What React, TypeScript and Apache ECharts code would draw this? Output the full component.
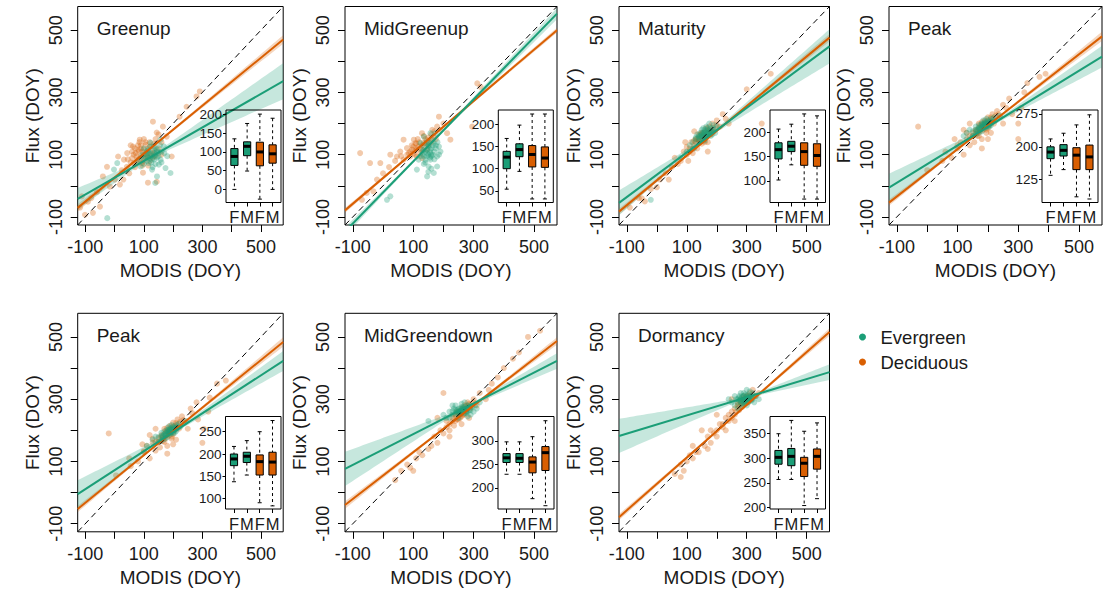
import React, { useEffect, useRef } from "react";
import * as echarts from "echarts";

const FONT = "'Liberation Sans', Arial, Helvetica, sans-serif";
const GREEN = "#1b9e77";
const ORANGE = "#d95f02";
const TEXT = "#1a1a1a";

// ---------- shared axis settings ----------
const axisRange = [-126, 576];
const mainTicks = [-100, 0, 100, 200, 300, 400, 500];
const mainLabels = [-100, 100, 300, 500];
const boxLabels = ["F", "M", "F", "M"];
const legendNames = ["Evergreen", "Deciduous"];
const panelTitles = ["Greenup", "MidGreenup", "Maturity", "Peak", "Peak", "MidGreendown", "Dormancy"];

// ---------- scatter points [MODIS, Flux] ----------
const greenupEv = [[123,138],[145,116],[134,95],[157,84],[117,73],[128,52],[145,30],[180,95],[157,148],[111,111],[100,89],[89,62],[139,9],[191,41],[9,73],[-2,52],[-25,-104],[168,127],[151,68],[128,84],[174,57],[134,127],[110,100],[120,105],[140,100],[100,120],[115,90],[130,110],[95,100],[150,105],[105,95],[115,115],[125,95],[135,85],[145,90],[125,75],[110,80],[140,120],[150,95],[160,110],[120,125],[130,60],[100,70],[160,75],[170,105],[115,105],[135,105],[145,110],[120,88],[90,90],[80,80],[140,70],[155,130]];
const greenupDe = [[-112,-34],[-118,-70],[-91,-51],[-74,-87],[-50,-67],[-101,-93],[-16,-3],[1,20],[18,4],[42,61],[-26,61],[12,94],[63,126],[86,148],[131,206],[144,171],[178,158],[195,94],[97,42],[114,10],[144,13],[291,303],[280,287],[246,254],[222,222],[165,190],[72,105],[77,84],[89,95],[60,89],[83,111],[100,116],[111,95],[94,73],[66,73],[123,127],[43,105],[32,84],[128,105],[106,132],[90,120],[120,140],[135,115],[70,60],[50,40],[100,100],[80,130],[140,150],[75,95],[85,85],[95,110],[105,90],[115,120],[65,100],[80,115],[100,80],[110,105],[90,130],[125,100],[70,120],[55,75],[135,135],[150,120],[160,140],[95,65],[120,80],[85,140],[60,110],[105,140],[130,90],[45,85],[115,65],[75,75],[150,165],[140,95],[100,150],[25,50],[30,20],[-40,30],[-60,-20],[-80,-40],[160,100],[55,130]];
const midGreenupEv = [[135,126],[146,105],[157,116],[168,137],[140,84],[151,62],[179,94],[163,148],[129,110],[157,84],[146,30],[168,41],[112,52],[24,-34],[13,-45],[135,158],[174,169],[185,126],[124,137],[151,126],[135,94],[190,110],[118,84],[179,62],[157,169],[145,115],[160,100],[150,140],[130,100],[140,110],[150,100],[160,120],[170,110],[145,95],[155,90],[165,130],[175,120],[135,115],[150,130],[160,95],[140,75],[170,85],[180,140],[125,95],[145,140],[155,108],[165,100],[185,100],[135,70],[160,55],[150,45],[175,130]];
const midGreenupDe = [[-76,105],[-43,73],[-9,73],[-54,-23],[-70,-45],[-32,-18],[24,100],[57,110],[68,148],[90,94],[107,137],[112,94],[129,169],[157,148],[179,190],[185,222],[212,169],[223,148],[312,329],[323,318],[295,190],[79,121],[96,116],[118,126],[135,137],[124,105],[146,116],[102,148],[85,105],[163,180],[168,158],[129,89],[68,84],[46,94],[110,120],[140,150],[100,105],[90,110],[100,125],[110,115],[120,140],[130,130],[140,135],[150,155],[160,165],[95,130],[105,100],[115,150],[125,120],[135,160],[145,145],[170,175],[80,100],[60,95],[40,80],[20,60],[0,40],[-20,20],[190,180],[200,200],[150,130],[130,115],[175,150],[110,135],[160,140]];
const maturityEv = [[110,130],[120,140],[130,150],[140,155],[145,170],[150,160],[155,150],[160,175],[165,165],[170,180],[175,170],[180,185],[185,175],[190,195],[150,180],[140,140],[160,145],[170,160],[135,165],[125,120],[195,170],[200,190],[100,110],[80,90],[165,190],[180,160],[155,170],[145,150],[175,200],[-20,-45],[150,165],[160,160],[165,170],[170,170],[175,175],[155,165],[160,170],[165,160],[180,175],[185,185],[150,155],[170,185],[140,160],[190,180],[155,185],[175,165],[160,180],[145,160],[185,165],[130,155]];
const maturityDe = [[-90,-70],[-60,-40],[-40,-50],[-20,-10],[10,20],[30,40],[50,60],[60,90],[80,80],[90,110],[100,100],[110,120],[115,140],[120,105],[125,130],[130,150],[135,120],[140,145],[145,165],[150,135],[155,160],[160,150],[165,175],[170,140],[175,190],[180,165],[185,200],[190,175],[200,210],[210,190],[220,230],[240,200],[350,200],[300,310],[380,360],[125,175],[95,140],[105,80],[170,110],[140,150],[150,155],[160,160],[130,140],[145,140],[155,170],[165,155],[175,180],[135,150],[150,170],[170,170],[160,140],[180,175],[190,185],[125,145],[140,165],[155,145],[165,185],[120,120],[110,110],[100,125],[70,70],[0,-5],[-50,-40],[40,20],[200,195],[230,215]];
const peakEv = [[130,170],[140,180],[150,175],[160,190],[165,180],[170,195],[175,185],[180,200],[185,190],[190,205],[195,195],[200,210],[205,200],[210,215],[215,205],[220,220],[170,170],[180,175],[190,185],[200,190],[160,165],[150,160],[225,210],[195,215],[185,210],[210,195],[120,160],[240,225],[175,190],[180,195],[185,195],[190,195],[195,200],[200,200],[205,205],[180,185],[190,200],[170,185],[195,190],[200,205],[185,200],[175,180],[210,205],[165,175],[215,210],[205,190],[160,180],[190,190]];
const peakDe = [[-30,190],[60,110],[80,90],[100,120],[110,140],[120,100],[130,150],[140,130],[150,170],[155,140],[160,180],[165,160],[170,200],[175,175],[180,150],[185,190],[190,210],[195,180],[200,220],[205,195],[210,170],[215,230],[220,200],[230,240],[240,220],[250,260],[270,280],[300,150],[310,250],[330,330],[370,350],[390,360],[140,200],[120,180],[180,120],[200,150],[250,200],[90,150],[160,175],[170,185],[180,190],[190,195],[200,200],[210,205],[175,195],[185,180],[195,205],[205,210],[165,170],[190,200],[200,185],[215,215],[225,225],[170,160],[180,205],[195,170],[210,220],[150,160],[140,160],[130,170],[235,230],[260,250],[100,130],[50,80],[0,50],[300,200],[320,300],[280,230]];
const peak2Ev = [[130,170],[140,180],[150,178],[160,192],[165,182],[170,197],[175,186],[180,202],[185,192],[190,207],[195,196],[200,212],[205,201],[210,217],[215,206],[220,222],[170,172],[180,177],[190,187],[200,192],[160,167],[150,162],[225,212],[195,217],[185,212],[210,197],[110,150],[245,230],[175,192],[180,197],[185,197],[190,197],[195,202],[200,202],[205,207],[180,187],[190,202],[170,187],[195,192],[200,207],[185,202],[175,182],[210,207],[165,177],[215,212],[205,192],[160,182],[190,192]];
const peak2De = [[-20,190],[50,110],[80,100],[100,130],[110,150],[120,110],[130,160],[140,135],[150,175],[155,145],[160,185],[165,165],[170,205],[175,175],[180,150],[185,195],[190,215],[195,180],[200,225],[205,200],[210,170],[215,235],[220,205],[230,245],[240,225],[260,270],[280,290],[300,160],[320,260],[350,350],[380,360],[140,205],[120,185],[180,125],[200,155],[250,205],[95,155],[160,178],[170,188],[180,193],[190,198],[200,203],[210,208],[175,198],[185,183],[195,208],[205,213],[165,173],[190,203],[200,188],[215,218],[225,228],[170,163],[180,208],[195,173],[210,223],[150,163],[140,163],[130,173],[235,233],[265,255],[100,133],[55,85],[5,55],[305,205],[325,305],[285,235]];
const midGreendownEv = [[200,250],[210,240],[220,260],[230,250],[235,270],[240,255],[245,265],[250,250],[255,270],[260,260],[265,275],[270,255],[275,270],[280,260],[285,280],[290,265],[295,275],[300,260],[305,280],[250,240],[260,285],[240,280],[270,290],[280,245],[220,240],[310,270],[150,230],[320,290],[230,280],[290,250],[250,260],[255,262],[260,265],[265,262],[270,268],[275,262],[280,270],[260,255],[245,258],[285,265],[265,270],[255,255],[270,275],[240,265],[290,275],[250,270],[275,255],[260,275],[280,280],[230,262]];
const midGreendownDe = [[40,40],[60,70],[90,80],[110,110],[130,120],[150,140],[170,180],[180,160],[190,200],[200,190],[210,210],[220,200],[230,230],[235,215],[240,250],[245,235],[250,260],[255,240],[260,270],[265,250],[270,280],[275,260],[280,290],[290,270],[300,300],[310,280],[320,320],[340,300],[360,350],[400,400],[430,430],[480,500],[520,520],[200,320],[180,240],[220,180],[260,220],[285,240],[240,245],[250,255],[260,265],[270,270],[280,275],[255,250],[265,260],[275,280],[245,260],[285,285],[230,240],[290,280],[250,235],[270,250],[240,230],[260,245],[300,290],[220,220],[210,230],[160,150],[120,130],[80,90],[100,70],[350,330],[380,370],[450,450]];
const dormancyEv = [[250,290],[260,280],[265,300],[270,290],[275,310],[280,295],[285,305],[290,285],[295,315],[300,300],[305,290],[310,310],[315,295],[320,305],[325,290],[280,320],[290,320],[300,330],[270,270],[285,280],[300,280],[310,325],[330,310],[240,300],[260,310],[295,300],[275,295],[305,305],[320,320],[340,300],[285,295],[290,300],[295,295],[300,305],[305,300],[310,305],[280,300],[290,310],[300,310],[295,290],[285,310],[310,295],[275,305],[300,295],[315,310],[290,290],[305,315],[280,285],[270,300],[320,300]];
const dormancyDe = [[60,60],[80,50],[100,100],[120,110],[140,130],[160,150],[170,180],[180,160],[190,190],[200,200],[210,220],[220,210],[230,240],[240,230],[250,260],[260,250],[270,280],[275,265],[280,290],[285,275],[290,300],[295,285],[300,310],[305,290],[310,320],[315,300],[320,330],[330,310],[340,320],[250,300],[200,250],[150,200],[230,200],[260,230],[120,150],[90,70],[270,285],[280,290],[290,295],[300,300],[295,305],[285,285],[275,275],[305,310],[310,305],[300,290],[260,270],[265,260],[250,240],[240,250],[220,220],[200,180],[180,200],[170,140],[130,130],[110,120],[80,90],[320,315],[290,310],[280,300]];

// ---------- regression fits: fitted Flux at MODIS = -126 and 576 ----------
const greenupEvLine = [-42, 336];
const greenupDeLine = [-71, 470];
const midGreenupEvLine = [-147, 553];
const midGreenupDeLine = [-79, 500];
const maturityEvLine = [-55, 448];
const maturityDeLine = [-83, 476];
const peakEvLine = [-6, 415];
const peakDeLine = [-54, 480];
const peak2EvLine = [-5, 423];
const peak2DeLine = [-53, 484];
const midGreendownEvLine = [76, 423];
const midGreendownDeLine = [-40, 487];
const dormancyEvLine = [182, 387];
const dormancyDeLine = [-79, 516];

// confidence band: [mean MODIS, half-width at mean, half-width at left end, half-width at right end]
const greenupEvBand = [110, 5, 35, 58];
const greenupDeBand = [95, 3, 12, 14];
const midGreenupEvBand = [135, 4, 14, 18];
const midGreenupDeBand = [115, 3, 8, 8];
const maturityEvBand = [165, 4, 40, 55];
const maturityDeBand = [150, 3, 10, 12];
const peakEvBand = [190, 5, 45, 35];
const peakDeBand = [185, 3, 10, 15];
const peak2EvBand = [190, 5, 45, 32];
const peak2DeBand = [185, 3, 10, 15];
const midGreendownEvBand = [265, 4, 55, 25];
const midGreendownDeBand = [250, 3, 12, 12];
const dormancyEvBand = [295, 4, 55, 25];
const dormancyDeBand = [280, 3, 10, 12];

// ---------- inset boxplots: [min, Q1, median, Q3, max] for F-evergreen, M-evergreen, F-deciduous, M-deciduous ----------
const greenupBox = [[0,64,88,109,135],[49,90,115,127,176],[-26,63,100,126,201],[0,70,95,119,190]];
const midGreenupBox = [[54,100,126,139,168],[94,127,143,156,198],[32,104,132,152,223],[32,103,124,149,223]];
const maturityBox = [[102,145,164,178,206],[133,160,171,181,216],[63,132,160,178,237],[63,130,152,176,233]];
const peakBox = [[135,173,188,200,218],[148,179,192,205,231],[86,148,181,198,250],[81,148,177,204,273]];
const peak2Box = [[138,174,189,200,217],[153,181,195,204,230],[91,153,183,198,250],[84,153,182,204,275]];
const midGreendownBox = [[229,254,264,273,298],[229,254,263,273,298],[177,232,255,266,309],[162,237,275,288,343]];
const dormancyBox = [[257,288,302,316,350],[257,285,304,320,377],[204,263,290,302,355],[218,278,304,319,372]];

const insetRanges = [[-35, 212], [24, 232], [56, 245], [73, 284], [77, 284], [155, 352], [197, 385]];
const insetTicks = [[0,50,100,150,200],[50,100,150,200],[100,150,200],[125,200,275],[100,150,200,250],[200,250,300],[200,250,300,350]];

// ---------- layout (pixels) ----------
const mainLeft = [77.7, 345, 619, 889, 77.7, 345, 619];
const mainWidth = [205.5, 212, 210.5, 213, 205.5, 212, 210.5];
const mainTop = [6.5, 6.5, 6.5, 6.5, 313.3, 313.3, 313.3];
const mainHeight = 218.5;
const insetLeft = [226, 498.3, 770, 1042, 225.5, 498, 770];
const insetWidth = [55, 55, 55.5, 56, 55.5, 56, 55.5];
const insetTop = [110, 110, 110, 110, 416.5, 416.5, 416.5];
const insetHeight = 92.5;

const panels = [
  { ev: greenupEv, de: greenupDe, evLine: greenupEvLine, deLine: greenupDeLine, evBand: greenupEvBand, deBand: greenupDeBand, box: greenupBox },
  { ev: midGreenupEv, de: midGreenupDe, evLine: midGreenupEvLine, deLine: midGreenupDeLine, evBand: midGreenupEvBand, deBand: midGreenupDeBand, box: midGreenupBox },
  { ev: maturityEv, de: maturityDe, evLine: maturityEvLine, deLine: maturityDeLine, evBand: maturityEvBand, deBand: maturityDeBand, box: maturityBox },
  { ev: peakEv, de: peakDe, evLine: peakEvLine, deLine: peakDeLine, evBand: peakEvBand, deBand: peakDeBand, box: peakBox },
  { ev: peak2Ev, de: peak2De, evLine: peak2EvLine, deLine: peak2DeLine, evBand: peak2EvBand, deBand: peak2DeBand, box: peak2Box },
  { ev: midGreendownEv, de: midGreendownDe, evLine: midGreendownEvLine, deLine: midGreendownDeLine, evBand: midGreendownEvBand, deBand: midGreendownDeBand, box: midGreendownBox },
  { ev: dormancyEv, de: dormancyDe, evLine: dormancyEvLine, deLine: dormancyDeLine, evBand: dormancyEvBand, deBand: dormancyDeBand, box: dormancyBox },
];

function bandPolygon(line: number[], band: number[]) {
  const [x0, x1] = axisRange;
  const [y0, y1] = line;
  const [xm, hMin, hL, hR] = band;
  const slope = (y1 - y0) / (x1 - x0);
  const kL = Math.sqrt(Math.max(hL * hL - hMin * hMin, 0)) / (xm - x0);
  const kR = Math.sqrt(Math.max(hR * hR - hMin * hMin, 0)) / (x1 - xm);
  const up: number[][] = [];
  const lo: number[][] = [];
  const n = 60;
  for (let i = 0; i <= n; i++) {
    const x = x0 + ((x1 - x0) * i) / n;
    const k = x < xm ? kL : kR;
    const h = Math.sqrt(hMin * hMin + k * k * (x - xm) * (x - xm));
    const y = y0 + slope * (x - x0);
    up.push([x, y + h]);
    lo.push([x, y - h]);
  }
  return up.concat(lo.reverse());
}

function buildOption() {
  const grid: any[] = [];
  const xAxis: any[] = [];
  const yAxis: any[] = [];
  const series: any[] = [];
  const title: any[] = [];
  const labelStyle = { color: TEXT, fontFamily: FONT };
  const hiddenLine = { show: false, onZero: false };

  panels.forEach((p, i) => {
    const gi = i * 2;
    const ii = i * 2 + 1;
    grid.push({ left: mainLeft[i], top: mainTop[i], width: mainWidth[i], height: mainHeight, show: true, borderColor: "#000", borderWidth: 1, backgroundColor: "transparent", containLabel: false });
    grid.push({ left: insetLeft[i], top: insetTop[i], width: insetWidth[i], height: insetHeight, show: true, borderColor: "#000", borderWidth: 1, backgroundColor: "transparent", z: 5, containLabel: false });

    xAxis.push({
      gridIndex: gi, type: "value", min: axisRange[0], max: axisRange[1], position: "bottom",
      axisLine: hiddenLine, splitLine: { show: false },
      axisTick: { show: true, length: 7, customValues: mainTicks, lineStyle: { color: "#000", width: 1 } },
      axisLabel: { customValues: mainLabels, fontSize: 18, margin: 13, ...labelStyle },
      name: "MODIS (DOY)", nameLocation: "middle", nameGap: 36,
      nameTextStyle: { fontSize: 19, ...labelStyle },
    });
    yAxis.push({
      gridIndex: gi, type: "value", min: axisRange[0], max: axisRange[1], position: "left",
      axisLine: hiddenLine, splitLine: { show: false },
      axisTick: { show: true, length: 7, customValues: mainTicks, lineStyle: { color: "#000", width: 1 } },
      axisLabel: { customValues: mainLabels, fontSize: 18, margin: 13, rotate: 90, ...labelStyle },
      name: "Flux (DOY)", nameLocation: "middle", nameGap: 36,
      nameTextStyle: { fontSize: 19, ...labelStyle },
    });
    xAxis.push({
      gridIndex: ii, type: "value", min: 0.34, max: 4.66, z: 6, position: "bottom",
      axisLine: hiddenLine, splitLine: { show: false },
      axisTick: { show: true, length: 4, customValues: [1, 2, 3, 4], lineStyle: { color: "#000" } },
      axisLabel: { customValues: [1, 2, 3, 4], formatter: (v: number) => boxLabels[Math.round(v) - 1], fontSize: 16.5, margin: 6, ...labelStyle },
    });
    yAxis.push({
      gridIndex: ii, type: "value", min: insetRanges[i][0], max: insetRanges[i][1], z: 6, position: "left",
      axisLine: hiddenLine, splitLine: { show: false },
      axisTick: { show: true, length: 3, customValues: insetTicks[i], lineStyle: { color: "#000" } },
      axisLabel: { customValues: insetTicks[i], fontSize: 13.5, margin: 4, ...labelStyle },
    });

    title.push({ text: panelTitles[i], left: mainLeft[i] + 19, top: mainTop[i] + 12.5, padding: 0, textStyle: { fontSize: 19, fontWeight: "normal", ...labelStyle } });

    // scatter points
    series.push({ type: "scatter", name: legendNames[1], xAxisIndex: gi, yAxisIndex: gi, data: p.de, symbolSize: 6, itemStyle: { color: ORANGE, opacity: 0.33 }, z: 2 });
    series.push({ type: "scatter", name: legendNames[0], xAxisIndex: gi, yAxisIndex: gi, data: p.ev, symbolSize: 6, itemStyle: { color: GREEN, opacity: 0.33 }, z: 2 });

    // confidence bands
    const bands = [
      { poly: bandPolygon(p.deLine, p.deBand), color: "rgba(217,95,2,0.25)" },
      { poly: bandPolygon(p.evLine, p.evBand), color: "rgba(27,158,119,0.25)" },
    ];
    bands.forEach((b) => {
      series.push({
        type: "custom", xAxisIndex: gi, yAxisIndex: gi, clip: true, z: 3, silent: true,
        data: [[axisRange[0], axisRange[0]]],
        renderItem: (_params: any, api: any) => ({
          type: "polygon",
          shape: { points: b.poly.map((pt) => api.coord(pt)) },
          style: { fill: b.color },
        }),
      });
    });

    // 1:1 line
    series.push({ type: "line", xAxisIndex: gi, yAxisIndex: gi, data: [[axisRange[0], axisRange[0]], [axisRange[1], axisRange[1]]], symbol: "none", lineStyle: { color: "#000", width: 1, type: [6, 4] }, z: 4, silent: true });
    // regression lines
    series.push({ type: "line", xAxisIndex: gi, yAxisIndex: gi, data: [[axisRange[0], p.deLine[0]], [axisRange[1], p.deLine[1]]], symbol: "none", lineStyle: { color: ORANGE, width: 2 }, z: 4, silent: true });
    series.push({ type: "line", xAxisIndex: gi, yAxisIndex: gi, data: [[axisRange[0], p.evLine[0]], [axisRange[1], p.evLine[1]]], symbol: "none", lineStyle: { color: GREEN, width: 2 }, z: 4, silent: true });

    // inset boxplot
    series.push({
      type: "custom", xAxisIndex: ii, yAxisIndex: ii, z: 6, silent: true,
      data: p.box.map((b, k) => [k + 1, ...b]),
      encode: { x: 0, y: [1, 2, 3, 4, 5] },
      renderItem: (_params: any, api: any) => {
        const x = api.value(0);
        const [cx, yMin] = api.coord([x, api.value(1)]);
        const yQ1 = api.coord([x, api.value(2)])[1];
        const yMed = api.coord([x, api.value(3)])[1];
        const yQ3 = api.coord([x, api.value(4)])[1];
        const yMax = api.coord([x, api.value(5)])[1];
        const hw = 3.6;
        const cap = 2;
        const fill = x <= 2 ? GREEN : ORANGE;
        const dash = { stroke: "#000", lineWidth: 1, lineDash: [3, 3] };
        const solid = { stroke: "#000", lineWidth: 1 };
        return {
          type: "group",
          children: [
            { type: "line", shape: { x1: cx, y1: yMax, x2: cx, y2: yQ3 }, style: dash },
            { type: "line", shape: { x1: cx, y1: yQ1, x2: cx, y2: yMin }, style: dash },
            { type: "line", shape: { x1: cx - cap, y1: yMax, x2: cx + cap, y2: yMax }, style: solid },
            { type: "line", shape: { x1: cx - cap, y1: yMin, x2: cx + cap, y2: yMin }, style: solid },
            { type: "rect", shape: { x: cx - hw, y: yQ3, width: hw * 2, height: yQ1 - yQ3 }, style: { fill, stroke: "#000", lineWidth: 1 } },
            { type: "line", shape: { x1: cx - hw, y1: yMed, x2: cx + hw, y2: yMed }, style: { stroke: "#000", lineWidth: 3 } },
          ],
        };
      },
    });
  });

  return {
    animation: false,
    backgroundColor: "#fff",
    textStyle: { fontFamily: FONT },
    title,
    legend: {
      orient: "vertical", left: 859, top: 327.5, itemWidth: 26, itemHeight: 7, itemGap: 6,
      selectedMode: false, padding: 0,
      textStyle: { fontSize: 18.5, color: TEXT, fontFamily: FONT },
      data: [
        { name: legendNames[0], icon: "circle", itemStyle: { color: GREEN, opacity: 1 } },
        { name: legendNames[1], icon: "circle", itemStyle: { color: ORANGE, opacity: 1 } },
      ],
    },
    grid, xAxis, yAxis, series,
  };
}

export default function App() {
  const ref = useRef<HTMLDivElement>(null);
  useEffect(() => {
    if (!ref.current) return;
    const chart = echarts.init(ref.current, null, { renderer: "svg" });
    chart.setOption(buildOption() as any);
    return () => chart.dispose();
  }, []);
  return <div ref={ref} style={{ position: "fixed", left: 0, top: 0, width: 1115, height: 593 }} />;
}
